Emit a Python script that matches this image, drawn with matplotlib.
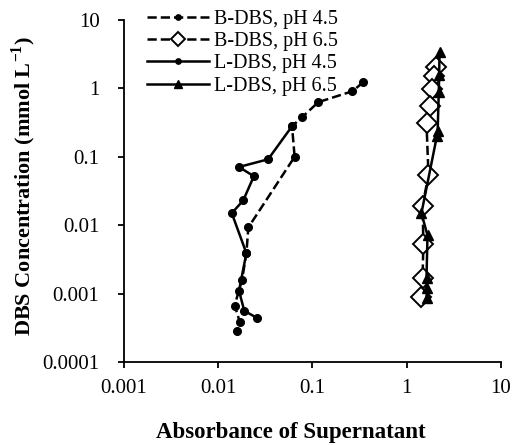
import numpy as np
from matplotlib import pyplot as plt

plt.rcParams['font.family'] = ['Liberation Serif', 'DejaVu Serif']
plt.rcParams['mathtext.fontset'] = 'custom'
plt.rcParams['mathtext.rm'] = 'Liberation Serif'
plt.rcParams['mathtext.bf'] = 'Liberation Serif:bold'

# B-DBS, pH 4.5 (dashed, filled circles)
b45_abs  = [0.349, 0.267, 0.116, 0.078, 0.061, 0.065, 0.021, 0.020, 0.018, 0.015, 0.017, 0.016]
b45_conc = [1.24, 0.91, 0.63, 0.38, 0.28, 0.10, 0.0093, 0.0039, 0.0016, 0.00067, 0.00039, 0.00028]

# B-DBS, pH 6.5 (dashed, open diamonds)
b65_abs  = [2.04, 1.94, 1.87, 1.78, 1.63, 1.71, 1.48, 1.51, 1.48, 1.41]
b65_conc = [2.05, 1.51, 0.98, 0.55, 0.31, 0.054, 0.0194, 0.0054, 0.0017, 0.00088]

# L-DBS, pH 4.5 (solid, small circles)
l45_abs  = [0.061, 0.034, 0.0167, 0.024, 0.0185, 0.014, 0.020, 0.0167, 0.019, 0.026]
l45_conc = [0.28, 0.092, 0.071, 0.052, 0.023, 0.015, 0.0039, 0.0011, 0.00056, 0.00044]

# L-DBS, pH 6.5 (solid, triangles)
l65_abs  = [2.24, 2.22, 2.20, 2.14, 2.10, 1.44, 1.67, 1.63, 1.65, 1.63]
l65_conc = [3.4, 1.57, 0.88, 0.24, 0.20, 0.015, 0.0071, 0.0017, 0.0012, 0.00086]

fig = plt.figure(figsize=(5.2, 4.45), dpi=100)
ax = fig.add_axes([0.238, 0.1865, 0.725, 0.7685])

ax.plot(b45_abs, b45_conc, color='black', ls='--', lw=1.8, marker='o', ms=5.5,
        label='B-DBS, pH 4.5')
ax.plot(b65_abs, b65_conc, color='black', ls='--', lw=1.8, marker='D', ms=10,
        mfc='white', mec='black', mew=1.4, label='B-DBS, pH 6.5')
ax.plot(l45_abs, l45_conc, color='black', ls='-', lw=1.8, marker='o', ms=5.5,
        label='L-DBS, pH 4.5')
ax.plot(l65_abs, l65_conc, color='black', ls='-', lw=1.8, marker='^', ms=7.5,
        label='L-DBS, pH 6.5')

ax.set_xscale('log')
ax.set_yscale('log')
ax.set_xlim(0.001, 10)
ax.set_ylim(0.0001, 10)
ax.set_xticks([0.001, 0.01, 0.1, 1, 10])
ax.set_xticklabels(['0.001', '0.01', '0.1', '1', '10'])
ax.set_yticks([0.0001, 0.001, 0.01, 0.1, 1, 10])
ax.set_yticklabels(['0.0001', '0.001', '0.01', '0.1', '1', '10'])
ax.minorticks_off()
ax.tick_params(direction='out', length=4.5, width=1.3, labelsize=15)
ax.tick_params(axis='y', pad=13)
ax.tick_params(axis='x', pad=8)
for s in ['top', 'right']:
    ax.spines[s].set_visible(False)
for s in ['left', 'bottom']:
    ax.spines[s].set_linewidth(1.3)

ax.set_xlabel('Absorbance of Supernatant', fontsize=16.5, fontweight='bold')
ax.xaxis.set_label_coords(0.443, -0.175)
ax.set_ylabel(r'DBS Concentration (mmol L$^{\mathbf{-1}}$)', fontsize=16,
              fontweight='bold')
ax.yaxis.set_label_coords(-0.228, 0.515)

ax.legend(loc='upper left', bbox_to_anchor=(0.035, 1.06), frameon=False,
          fontsize=14.5, handlelength=3.1, handletextpad=0.25, labelspacing=0.16,
          borderpad=0.0, markerscale=0.7)

fig.savefig('out.png', dpi=100)
